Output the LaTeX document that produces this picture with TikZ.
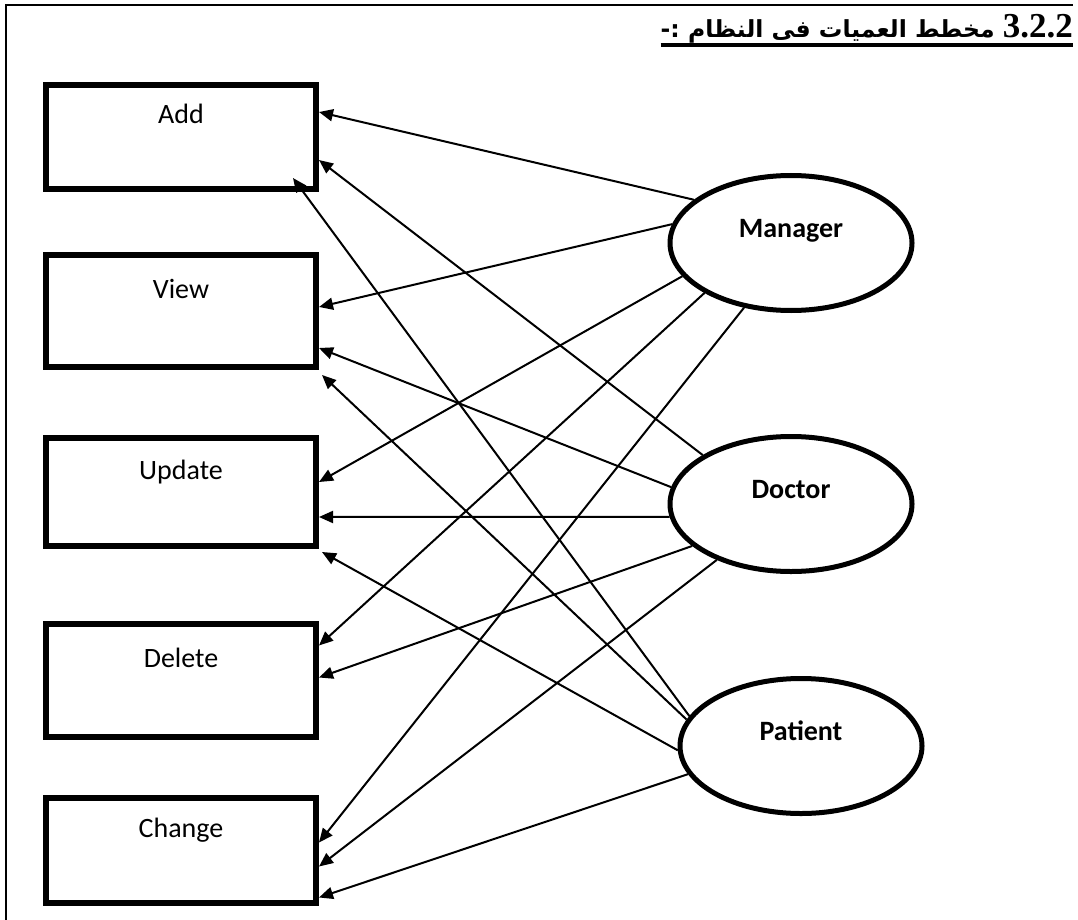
\documentclass[tikz,border=0pt]{standalone}
\usepackage{fontspec}
\setmainfont{Carlito}
\newfontfamily\arabicfont[Script=Arabic]{DejaVu Sans}
\newfontfamily\numfont{Liberation Serif}
\TeXXeTstate=1
\usetikzlibrary{arrows.meta, positioning, shapes.geometric}

\begin{document}
\begin{tikzpicture}[
    x=1pt, y=-1pt,
    font=\fontsize{28}{34}\selectfont,
    box/.style={draw, line width=6pt, minimum width=270pt, inner sep=0pt, text height=20pt, text depth=46pt},
    actor/.style={ellipse, draw, line width=5pt, minimum width=242pt, minimum height=135pt, inner sep=0pt, text height=20pt, text depth=32pt, font=\fontsize{28}{34}\selectfont\bfseries},
    arrow/.style={-{Triangle[length=14pt, width=12pt]}, line width=2pt}
]
\useasboundingbox (0,0) rectangle (1078,920);

% Frame
\draw[line width=2pt] (6,920) -- (6,5) -- (1073,5);

% Title
\node[anchor=base east, inner sep=0pt] (title) at (1073,38) {\bfseries\arabicfont\fontsize{23.5}{28}\selectfont\beginR{\numfont\fontsize{35}{40}\selectfont\beginL 3.2.2\endL} مخطط العميات فى النظام :-\endR};
\draw[line width=3.5pt] ([yshift=-7pt]title.base west) -- ([yshift=-7pt]title.base east);

% Operations
\node[box, minimum height=104pt] (add) at (181,137) {Add};
\node[box, minimum height=112pt] (view) at (181,311) {View};
\node[box, minimum height=108pt] (update) at (181,492) {Update};
\node[box, minimum height=113pt] (delete) at (181,680.5) {Delete};
\node[box, minimum height=105pt] (change) at (181,850.5) {Change};

% Users
\node[actor] (manager) at (791,243) {Manager};
\node[actor] (doctor) at (791,504) {Doctor};
\node[actor] (patient) at (801,746) {Patient};

% Manager
\draw[arrow] (manager.156) -- ([yshift=25pt]add.east);
\draw[arrow] (manager.171) -- ([yshift=4pt]view.east);
\draw[arrow] (manager.197) -- ([yshift=10pt]update.east);
\draw[arrow] (manager.210) -- ([yshift=35pt]delete.east);
\draw[arrow] (manager.234) -- ([yshift=8pt]change.east);

% Doctor
\draw[arrow] (doctor.151) -- ([yshift=-23pt]add.east);
\draw[arrow] (doctor.172) -- ([yshift=-37pt]view.east);
\draw[arrow] (doctor.186) -- ([yshift=-25pt]update.east);
\draw[arrow] (doctor.203) -- ([yshift=3pt]delete.east);
\draw[arrow] (doctor.217) -- ([yshift=-16pt]change.east);

% Patient
\draw[arrow] (patient.165) -- ([xshift=-26pt,yshift=-41pt]add.east);
\draw[arrow] (patient.167) -- ([xshift=3pt,yshift=-5pt]view.south east);
\draw[arrow] (patient.182) -- ([xshift=3pt,yshift=-3pt]update.south east);
\draw[arrow] (patient.194) -- ([yshift=-47pt]change.east);

\end{tikzpicture}
\end{document}
